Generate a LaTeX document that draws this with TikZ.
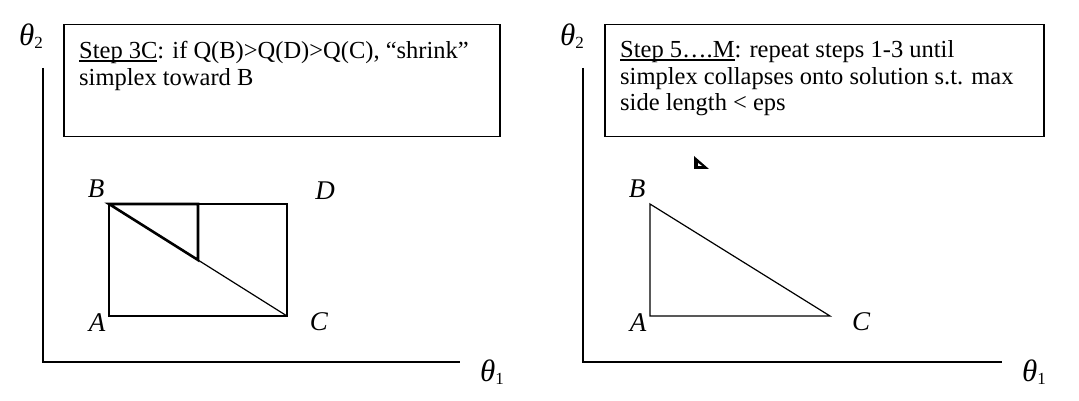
\documentclass[tikz,border=0pt]{standalone}
\usepackage{fontspec}
\setmainfont{Liberation Serif}
\usetikzlibrary{calc}
\newcommand{\myul}[1]{\setbox0\hbox{#1}\rlap{\rule[-2.6pt]{\wd0}{1.2pt}}\box0}
\newcommand{\thetasub}[1]{{\fontsize{31}{31}\selectfont\itshape θ}\raisebox{-3pt}{\fontsize{17}{17}\selectfont #1}}
\tikzset{
  axisline/.style={line width=2pt},
  simplexline/.style={line width=1.2pt},
  shrinkline/.style={line width=2.6pt, line join=miter},
  stepbox/.style={draw, line width=1.5pt, anchor=north west, inner sep=0pt},
  txt/.style={font=\fontsize{24.5}{27}\selectfont, inner sep=0pt, anchor=base west},
  lbl/.style={font=\fontsize{27}{27}\selectfont\itshape, inner sep=0pt},
  axlbl/.style={inner sep=0pt, anchor=base west}
}
\begin{document}
\begin{tikzpicture}[x=1pt,y=-1pt]
\useasboundingbox (0,0) rectangle (1079,401);
% ---------------- left panel ----------------
\coordinate (LY) at (43,68);
\coordinate (LO) at (43,362);
\coordinate (LX) at (460,362);
\draw[axisline] (LY) -- (LO) -- (LX);
\node[axlbl] (LT2) at (19,46) {\thetasub{2}};
\node[axlbl] (LT1) at (480,381) {\thetasub{1}};
\node[stepbox, minimum width=436pt, minimum height=112pt] (LBox) at (63,24) {};
\node[txt] (LL1) at (79,59) {\myul{Step 3C}: if Q(B)>Q(D)>Q(C), “shrink”};
\node[txt] (LL2) at (79,86) {simplex toward B};
\coordinate (A1) at (109,316);
\coordinate (B1) at (109,204);
\coordinate (C1) at (287,316);
\coordinate (D1) at (287,204);
\draw[simplexline] (A1) -- (B1) -- (D1) -- (C1) -- cycle;
\draw[simplexline] (B1) -- (C1);
\coordinate (M1) at ($(B1)!0.5!(D1)$);
\coordinate (N1) at ($(B1)!0.5!(C1)$);
\draw[shrinkline] (B1) -- (M1) -- (N1) -- cycle;
\node[lbl] (LA) at (97,323) {A};
\node[lbl] (LB) at (96,189) {B};
\node[lbl] (LC) at (319,322) {C};
\node[lbl] (LD) at (325,191) {D};
% ---------------- right panel ----------------
\coordinate (RY) at (583,68);
\coordinate (RO) at (583,362);
\coordinate (RX) at (1002,362);
\draw[axisline] (RY) -- (RO) -- (RX);
\node[axlbl] (RT2) at (560,46) {\thetasub{2}};
\node[axlbl] (RT1) at (1022,381) {\thetasub{1}};
\node[stepbox, minimum width=439pt, minimum height=112pt] (RBox) at (604,24) {};
\node[txt] (RL1) at (620,58) {\myul{Step 5….M}: repeat steps 1-3 until};
\node[txt] (RL2) at (620,84.5) {simplex collapses onto solution s.t. max};
\node[txt] (RL3) at (620,111) {side length < eps};
\coordinate (A2) at (650,316);
\coordinate (B2) at (650,204);
\coordinate (C2) at (830,316);
\draw[simplexline] (A2) -- (B2) -- (C2) -- cycle;
\node[lbl] (RA) at (638,323) {A};
\node[lbl] (RB) at (637,189) {B};
\node[lbl] (RC) at (861,322) {C};
% collapsed simplex marker
\coordinate (P1) at (694,156);
\coordinate (P2) at (694,169);
\coordinate (P3) at (709,169);
\fill[black] (P1) -- (P2) -- (P3) -- cycle;
\coordinate (Q1) at (698,163);
\coordinate (Q2) at (698,166);
\coordinate (Q3) at (702,166);
\fill[white] (Q1) -- (Q2) -- (Q3) -- cycle;
\end{tikzpicture}
\end{document}
